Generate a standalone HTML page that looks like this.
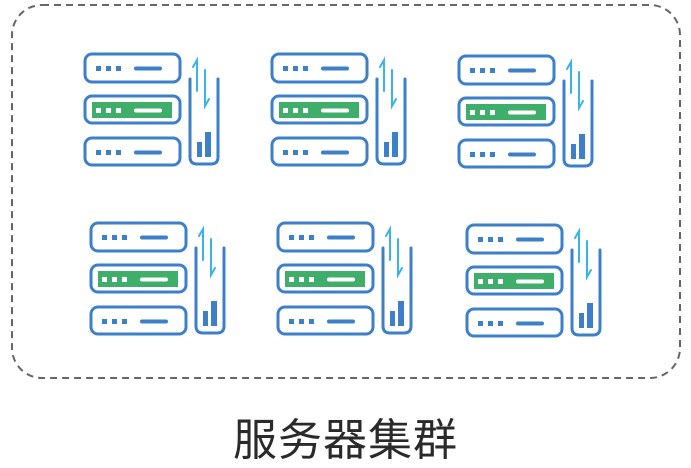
<!DOCTYPE html><html><head><style>body{margin:0;background:#fff;width:691px;height:467px;overflow:hidden}
.t{position:absolute;left:0;width:691px;top:404px;text-align:center;font:44px "Liberation Sans","Noto Sans CJK SC",sans-serif;color:#2a2a2a;letter-spacing:1px}</style></head><body>
<svg width="691" height="467" style="position:absolute;left:0;top:0">
<defs><g id="s" fill="none" stroke-linecap="round">
<g stroke="#3d7fc9" stroke-width="3">
<rect x="1" y="1" width="95" height="28" rx="7" fill="#fff"/>
<rect x="1" y="43" width="95" height="27" rx="7" fill="#fff"/>
<rect x="1" y="85" width="95" height="27" rx="7" fill="#fff"/>
<path d="M106,26 V104 Q106,111 113,111 H127 Q134,111 134,104 V26"/>
</g>
<rect x="8" y="49" width="80" height="16" fill="#3fae6a"/>
<g fill="#3d7fc9"><rect x="12" y="13" width="5" height="5"/><rect x="22" y="13" width="5" height="5"/><rect x="32" y="13" width="5" height="5"/>
<rect x="12" y="97" width="5" height="5"/><rect x="22" y="97" width="5" height="5"/><rect x="32" y="97" width="5" height="5"/>
<rect x="113" y="89" width="5" height="15"/><rect x="121" y="79" width="6" height="25"/></g>
<g fill="#fff"><rect x="12" y="55" width="5" height="5"/><rect x="22" y="55" width="5" height="5"/><rect x="32" y="55" width="5" height="5"/></g>
<path d="M52,15.5 H76 M52,99.5 H76" stroke="#3d7fc9" stroke-width="4"/>
<path d="M52,57.5 H76" stroke="#fff" stroke-width="4"/>
<path d="M113,38 V7 L109,14 M121,17 V53 L125,46" stroke="#38b4e8" stroke-width="2"/>
</g></defs>
<rect x="12" y="5" width="668" height="373" rx="30" fill="none" stroke="#666" stroke-width="2" stroke-dasharray="7,5"/>
<use href="#s" x="84" y="53"/><use href="#s" x="271" y="53"/><use href="#s" x="458" y="55"/>
<use href="#s" x="90" y="222"/><use href="#s" x="277" y="222"/><use href="#s" x="466" y="224"/>
</svg>
<div class="t">服务器集群</div>
</body></html>
